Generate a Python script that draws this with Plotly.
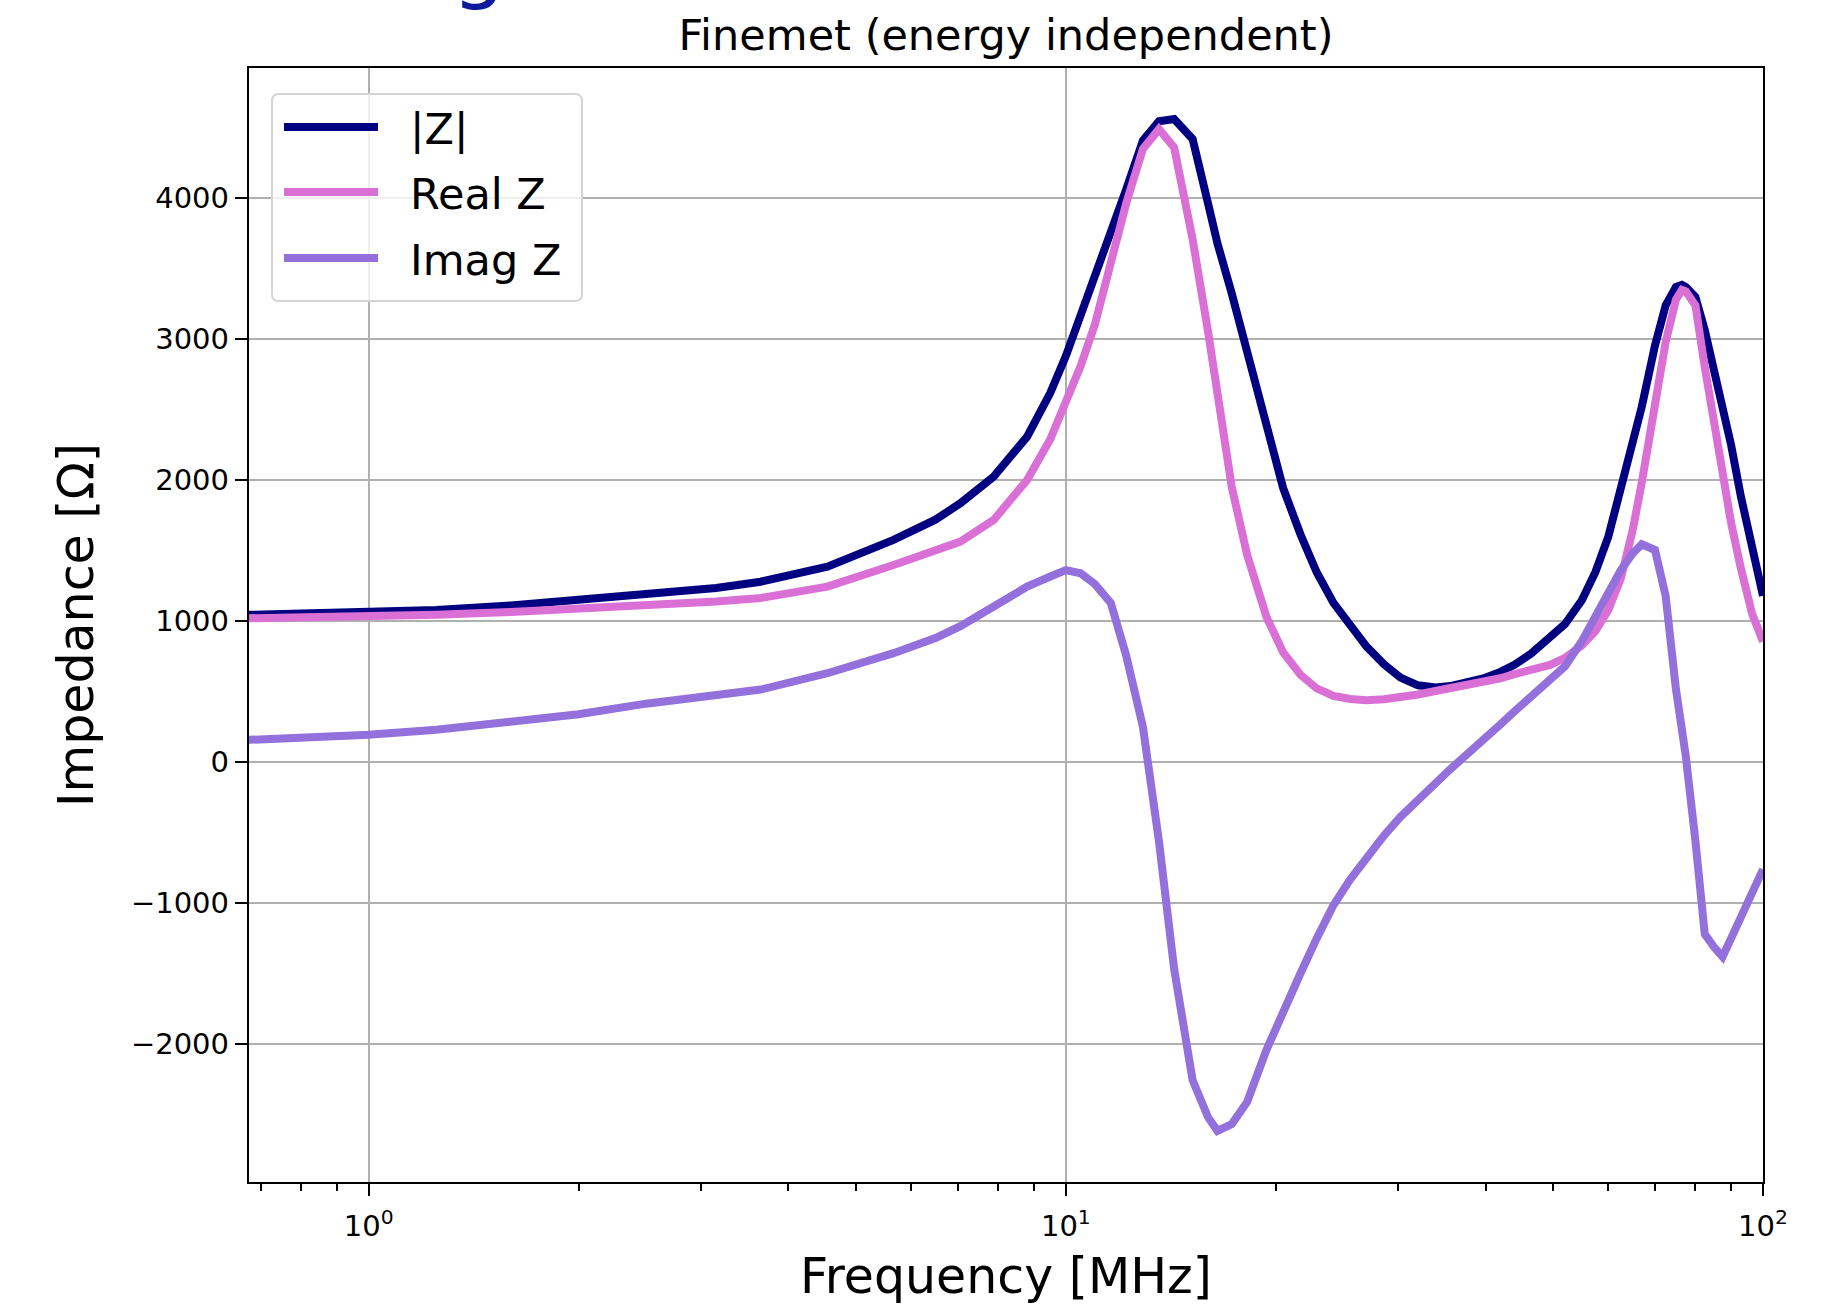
import math
import plotly.graph_objects as go

# ---------------- data ----------------
freq_mhz = [0.672, 0.8, 1.0, 1.25, 1.6, 2.0, 2.5, 3.15, 3.65, 4.55, 5.66, 6.5, 7.06, 7.88,
            8.8, 9.5, 10.0, 10.5, 11.0, 11.6, 12.2, 12.9, 13.6, 14.3, 15.2, 16.0, 16.5,
            17.3, 18.2, 19.4, 20.5, 21.7, 22.9, 24.2, 25.6, 27.0, 28.6, 30.2, 32.0, 33.9,
            35.6, 37.6, 39.7, 42.0, 44.0, 46.5, 49.5, 52.0, 55.0, 57.5, 60.0, 62.5, 65.0,
            67.0, 70.0, 72.5, 75.0, 76.5, 77.5, 80.0, 82.5, 85.0, 87.5, 90.0, 93.0, 96.5,
            100.0]

z_abs = [1045, 1052, 1062, 1080, 1112, 1150, 1190, 1235, 1280, 1387, 1577, 1720, 1837, 2026,
         2309, 2620, 2880, 3160, 3430, 3770, 4060, 4410, 4546, 4562, 4420, 3960, 3680,
         3324, 2905, 2375, 1943, 1617, 1347, 1130, 960, 820, 694, 600, 545, 530,
         540, 560, 594, 640, 690, 770, 880, 980, 1150, 1350, 1600, 1935, 2260,
         2520, 2956, 3240, 3370, 3385, 3370, 3300, 3066, 2800, 2520, 2250, 1880, 1500,
         1180]

z_real = [1021, 1026, 1033, 1045, 1066, 1088, 1115, 1140, 1165, 1245, 1399, 1495, 1565, 1718,
          2002, 2290, 2540, 2810, 3100, 3540, 3960, 4350, 4490, 4360, 3710, 3050, 2600,
          1950, 1470, 1030, 779, 620, 523, 470, 448, 440, 446, 460, 480, 505,
          523, 541, 565, 595, 625, 650, 690, 740, 830, 930, 1080, 1300, 1642,
          1982, 2522, 2980, 3280, 3350, 3340, 3240, 2803, 2420, 2023, 1697, 1370, 1050,
          856]

z_imag = [158, 172, 194, 230, 285, 340, 415, 475, 515, 631, 773, 880, 965, 1104,
          1245, 1317, 1362, 1340, 1265, 1130, 760, 250, -560, -1467, -2256, -2520, -2615,
          -2567, -2410, -2040, -1760, -1499, -1250, -1015, -830, -673, -520, -388, -260, -150,
          -50, 50, 150, 267, 360, 470, 580, 680, 860, 1036, 1200, 1360, 1480,
          1545, 1505, 1180, 520, 230, 40, -560, -1220, -1310, -1380, -1250, -1100, -930,
          -760]

series_names = ["|Z|", "Real Z", "Imag Z"]
series_values = [z_abs, z_real, z_imag]
series_colors = ["#000080", "#DA70D6", "#9370DB"]

x_tickvals = [1, 10, 100]
x_ticktext = ["10<sup>0</sup>", "10<sup>1</sup>", "10<sup>2</sup>"]
x_minor_vals = [0.7, 0.8, 0.9, 2, 3, 4, 5, 6, 7, 8, 9, 20, 30, 40, 50, 60, 70, 80, 90]
y_tickvals = [-2000, -1000, 0, 1000, 2000, 3000, 4000]
y_ticktext = ["\u22122000", "\u22121000", "0", "1000", "2000", "3000", "4000"]

title_text = "Finemet (energy independent)"
x_title = "Frequency [MHz]"
y_title = "Impedance [\u03a9]"

# ---------------- layout geometry ----------------
W, H = 1839, 1306
PL, PR, PT, PB = 249, 1763, 68, 1182
FONT = "DejaVu Sans"


def px(x):
    return (x - PL) / (PR - PL)


def py(y):
    return (PB - y) / (PB - PT)


fig = go.Figure()
for name, vals, col in zip(series_names, series_values, series_colors):
    fig.add_trace(go.Scatter(x=freq_mhz, y=vals, mode="lines", name=name,
                             line=dict(color=col, width=8), showlegend=False))

fig.update_layout(
    width=W, height=H,
    margin=dict(l=PL, r=W - PR, t=PT, b=H - PB),
    paper_bgcolor="white", plot_bgcolor="white",
    font=dict(family=FONT, color="black"),
    title=dict(text=title_text, x=(PL + PR) / 2 / W, xanchor="center",
               y=1 - 35 / H, yanchor="middle", font=dict(size=43, family=FONT)),
)

fig.update_xaxes(
    type="log", range=[math.log10(0.6735), 2],
    tickvals=x_tickvals, ticktext=x_ticktext,
    ticks="outside", ticklen=12, tickwidth=2.2, tickcolor="black",
    tickfont=dict(size=29, family=FONT), ticklabelstandoff=5,
    showgrid=True, gridcolor="#b0b0b0", gridwidth=2,
    showline=True, linecolor="black", linewidth=2.4, mirror=True,
    zeroline=False,
    minor=dict(tickvals=x_minor_vals, ticks="outside", ticklen=7, tickwidth=1.7,
               tickcolor="black", showgrid=False),
    title=dict(text=x_title, font=dict(size=49, family=FONT), standoff=17),
)
fig.update_yaxes(
    range=[-2978, 4924],
    tickvals=y_tickvals, ticktext=y_ticktext,
    ticks="outside", ticklen=12, tickwidth=2.2, tickcolor="black",
    tickfont=dict(size=29, family=FONT),
    showgrid=True, gridcolor="#b0b0b0", gridwidth=2,
    showline=True, linecolor="black", linewidth=2.4, mirror=True,
    zeroline=False,
    title=dict(text=y_title, font=dict(size=49, family=FONT), standoff=22),
)

# ---------------- manual matplotlib-style legend ----------------
bx0, bx1, by0, by1, rad = 272, 582, 94, 301, 7
rx, ry = rad / (PR - PL), rad / (PB - PT)
X0, X1, Y0, Y1 = px(bx0), px(bx1), py(by0), py(by1)  # Y0 top, Y1 bottom
path = (f"M{X0 + rx},{Y0} L{X1 - rx},{Y0} Q{X1},{Y0} {X1},{Y0 - ry} "
        f"L{X1},{Y1 + ry} Q{X1},{Y1} {X1 - rx},{Y1} L{X0 + rx},{Y1} "
        f"Q{X0},{Y1} {X0},{Y1 + ry} L{X0},{Y0 - ry} Q{X0},{Y0} {X0 + rx},{Y0} Z")
fig.add_shape(type="path", path=path, xref="paper", yref="paper", layer="above",
              fillcolor="rgba(255,255,255,0.8)", line=dict(color="#d4d4d4", width=2))

legend_rows = [127, 192, 258]
for name, col, yy in zip(series_names, series_colors, legend_rows):
    fig.add_shape(type="line", xref="paper", yref="paper", layer="above",
                  x0=px(284), x1=px(378), y0=py(yy), y1=py(yy),
                  line=dict(color=col, width=8))
    fig.add_annotation(text=name, xref="paper", yref="paper", x=px(408), y=py(yy + 2),
                       xanchor="left", yanchor="middle", showarrow=False,
                       font=dict(size=43, family=FONT, color="black"))

# cut-off slide heading fragment at the very top
fig.add_annotation(text="g", xref="paper", yref="paper", x=px(478), y=py(-36),
                   xanchor="center", yanchor="middle", showarrow=False,
                   font=dict(size=84, family=FONT, color="#0d1a9b"))

fig.write_html("out.html")
